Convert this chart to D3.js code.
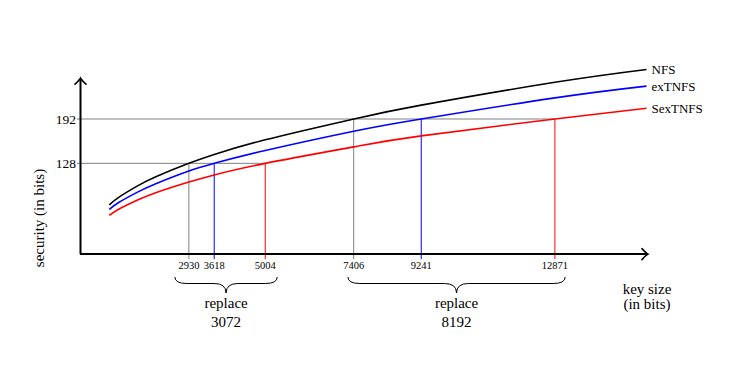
<!DOCTYPE html>
<html>
<head>
<meta charset="utf-8">
<script src="https://d3js.org/d3.v7.min.js"></script>
<style>
  body { margin: 0; background: #fff; }
  svg { display: block; font-family: "Liberation Serif", "DejaVu Serif", serif; }
</style>
</head>
<body>
<div id="grafico"></div>
<script>
// key sizes (bits) at which the curves were read
var keySizes = [768, 1024, 1536, 2048, 2930, 3618, 5004, 7406, 9241, 12871, 15360];
// security (bits) for each algorithm
var nfs     = [68, 79, 95.5, 109, 128, 140.8, 162, 192, 212, 245, 263.5];
var exTNFS  = [61.5, 71.5, 86.5, 99, 117, 128, 146.5, 174.3, 192, 222.5, 239.5];
var sexTNFS = [52.9, 61.8, 75, 86, 101, 111.3, 128, 151.8, 167.6, 192, 207.5];
var seriesNames = ["NFS", "exTNFS", "SexTNFS"];

// security levels and the key sizes that reach them
var levels = [128, 192];
var crossKeys = [2930, 3618, 5004, 7406, 9241, 12871];
var crossLevels = [128, 128, 128, 192, 192, 192];
var crossSeries = ["NFS", "exTNFS", "SexTNFS", "NFS", "exTNFS", "SexTNFS"];

// braces under the key size axis
var braceFrom = [2550, 7250];
var braceTo = [5330, 13150];
var braceLabels = ["3072", "8192"];

var width = 750, height = 376;

var svg = d3.select("#grafico").append("svg")
    .attr("width", width)
    .attr("height", height);

var x = d3.scaleLinear().domain([0, 15400]).range([81, 648]);
var y = d3.scaleLinear().domain([-3, 192]).range([254.1, 119]);
var yTop = 251;

var lineColor = d3.scaleOrdinal().domain(seriesNames).range(["#000", "#0000ff", "#ff0000"]);
var markColor = d3.scaleOrdinal().domain(seriesNames).range(["#808080", "#0000ff", "#ff0000"]);

var series = [nfs, exTNFS, sexTNFS].map(function(vals, i) {
    return {
        name: seriesNames[i],
        values: vals.map(function(v, j) { return {k: keySizes[j], s: v}; })
    };
});

// level lines
svg.append("g").selectAll("line")
    .data(levels)
    .enter().append("line")
    .attr("x1", x(0) - 4)
    .attr("x2", function(l) {
        return x(d3.max(crossKeys.filter(function(k, i) { return crossLevels[i] == l; })));
    })
    .attr("y1", function(l) { return y(l); })
    .attr("y2", function(l) { return y(l); })
    .attr("stroke", "#808080")
    .attr("stroke-width", 1);

// vertical drops
svg.append("g").selectAll("line")
    .data(crossKeys)
    .enter().append("line")
    .attr("x1", function(k) { return x(k); })
    .attr("x2", function(k) { return x(k); })
    .attr("y1", function(k, i) { return y(crossLevels[i]); })
    .attr("y2", y(-3) + 5)
    .attr("stroke", function(k, i) { return markColor(crossSeries[i]); })
    .attr("stroke-width", 1);

// curves
var line = d3.line()
    .x(function(d) { return x(d.k); })
    .y(function(d) { return y(d.s); })
    .curve(d3.curveNatural);

svg.append("g").selectAll("path")
    .data(series)
    .enter().append("path")
    .attr("d", function(d) { return line(d.values); })
    .attr("fill", "none")
    .attr("stroke", function(d) { return lineColor(d.name); })
    .attr("stroke-width", 1.6);

svg.append("g").selectAll("text")
    .data(series)
    .enter().append("text")
    .attr("x", function(d) { return x(d.values[d.values.length - 1].k) + 5; })
    .attr("y", function(d) { return y(d.values[d.values.length - 1].s) + 5; })
    .attr("font-size", 13)
    .text(function(d) { return d.name; });

// axes with arrows
var axisG = svg.append("g").attr("stroke", "#000").attr("fill", "none").attr("stroke-width", 2);
axisG.append("line")
    .attr("x1", x(0) - 1).attr("x2", x.range()[1] - 1)
    .attr("y1", y(-3)).attr("y2", y(-3));
axisG.append("line")
    .attr("x1", x(0) - 0.5).attr("x2", x(0) - 0.5)
    .attr("y1", y(-3)).attr("y2", y(yTop) + 1);
axisG.append("path")
    .attr("stroke-width", 1.6)
    .attr("stroke-linecap", "round")
    .attr("d", "M-6,-5.5 Q-2,-1 0,0 Q-2,1 -6,5.5")
    .attr("transform", "translate(" + x.range()[1] + "," + y(-3) + ")");
axisG.append("path")
    .attr("stroke-width", 1.6)
    .attr("stroke-linecap", "round")
    .attr("d", "M-6,-5.5 Q-2,-1 0,0 Q-2,1 -6,5.5")
    .attr("transform", "translate(" + (x(0) - 0.5) + "," + y(yTop) + ") rotate(-90)");

// y tick labels
svg.append("g").selectAll("text")
    .data(levels)
    .enter().append("text")
    .attr("x", x(0) - 5)
    .attr("y", function(l) { return y(l) + 4.5; })
    .attr("text-anchor", "end")
    .attr("font-size", 13.5)
    .text(function(l) { return l; });

// key size labels
svg.append("g").selectAll("text")
    .data(crossKeys)
    .enter().append("text")
    .attr("x", function(k) { return x(k); })
    .attr("y", 269)
    .attr("text-anchor", "middle")
    .attr("font-size", 10.5)
    .text(function(k) { return k; });

// braces
var brace = function(x1, x2, y0) {
    var xm = (x1 + x2) / 2, h = 6.5, t = 9.5, r = 12;
    return "M" + x1 + "," + y0 +
        " Q" + x1 + "," + (y0 + h) + " " + (x1 + r) + "," + (y0 + h) +
        " L" + (xm - r) + "," + (y0 + h) +
        " Q" + xm + "," + (y0 + h) + " " + xm + "," + (y0 + h + t) +
        " Q" + xm + "," + (y0 + h) + " " + (xm + r) + "," + (y0 + h) +
        " L" + (x2 - r) + "," + (y0 + h) +
        " Q" + x2 + "," + (y0 + h) + " " + x2 + "," + y0;
};

var bG = svg.append("g").selectAll("g")
    .data(braceLabels)
    .enter().append("g");

bG.append("path")
    .attr("d", function(d, i) { return brace(x(braceFrom[i]), x(braceTo[i]), 277); })
    .attr("fill", "none")
    .attr("stroke", "#000")
    .attr("stroke-width", 1);

bG.append("text")
    .attr("x", function(d, i) { return (x(braceFrom[i]) + x(braceTo[i])) / 2; })
    .attr("y", 308)
    .attr("text-anchor", "middle")
    .attr("font-size", 15)
    .text("replace");

bG.append("text")
    .attr("x", function(d, i) { return (x(braceFrom[i]) + x(braceTo[i])) / 2; })
    .attr("y", 327)
    .attr("text-anchor", "middle")
    .attr("font-size", 15)
    .text(function(d) { return d; });

// axis titles
svg.append("text")
    .attr("x", 647).attr("y", 294)
    .attr("text-anchor", "middle")
    .attr("font-size", 15)
    .text("key size");
svg.append("text")
    .attr("x", 647).attr("y", 309)
    .attr("text-anchor", "middle")
    .attr("font-size", 15)
    .text("(in bits)");

svg.append("text")
    .attr("transform", "translate(44,218) rotate(-90)")
    .attr("text-anchor", "middle")
    .attr("font-size", 15)
    .text("security (in bits)");
</script>
</body>
</html>
